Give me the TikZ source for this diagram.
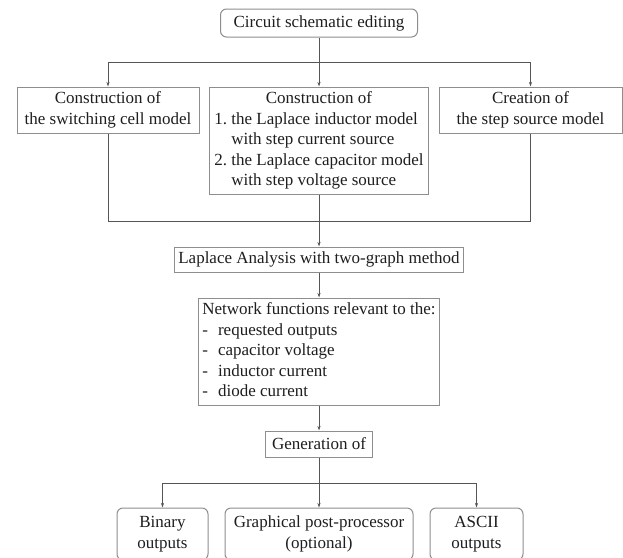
\documentclass[tikz,border=0pt]{standalone}
\usepackage{fontspec}
\setmainfont{Liberation Serif}
\usetikzlibrary{arrows.meta}
\definecolor{boxline}{HTML}{8E8E8E}
\definecolor{wireline}{HTML}{555555}
\definecolor{ink}{HTML}{1E1E1E}
\tikzset{
  box/.style={draw=boxline, line width=1pt, fill=white, inner sep=0pt, text=ink,
              font=\fontsize{17}{20.5}\selectfont, align=center},
  rbox/.style={box, rounded corners=6pt},
  wire/.style={wireline, line width=0.7pt},
  feed/.style={wire, -{Stealth[length=4.5pt, width=3pt]}},
}

\begin{document}
\begin{tikzpicture}[x=1pt, y=-1pt]
  \useasboundingbox[fill=white] (0,0) rectangle (623,557);
  % editing step
  \node[rbox, minimum width=197pt, minimum height=28pt] (edit) at (319,23) {Circuit schematic editing};

  % model construction blocks
  \node[box, minimum width=182pt, minimum height=46pt] (cell) at (108,110) {Construction of\\the switching cell model};
  \node[box, minimum width=219pt, minimum height=107pt] (lmod) at (319,140.5) {%
    \begin{tabular}{@{}l@{\ }l@{}}
      \multicolumn{2}{c}{Construction of}\\
      1. & the Laplace inductor model\\
         & with step current source\\
      2. & the Laplace capacitor model\\
         & with step voltage source
    \end{tabular}};
  \node[box, minimum width=183pt, minimum height=46pt] (src) at (530.5,110) {Creation of\\the step source model};

  \coordinate (fork) at (319,62);
  \coordinate (join) at (319,221);
  \draw[wire] (edit.south) -- (fork);
  \draw[wire] (cell.north |- fork) -- (src.north |- fork);
  \foreach \n in {cell,lmod,src}{\draw[feed] (\n.north |- fork) -- (\n.north);}

  % analysis
  \node[box, minimum width=289pt, minimum height=25pt] (lap) at (319,259.5) {Laplace Analysis with two-graph method};
  \draw[wire] (cell.south) -- (cell.south |- join) -- (src.south |- join) -- (src.south);
  \draw[feed] (lmod.south) -- (lap.north);

  \node[box, minimum width=241pt, minimum height=107pt] (net) at (319,351.5) {%
    \begin{tabular}{@{}l@{\hspace{10pt}}l@{}}
      \multicolumn{2}{@{}l@{}}{Network functions relevant to the:}\\
      - & requested outputs\\
      - & capacitor voltage\\
      - & inductor current\\
      - & diode current
    \end{tabular}};
  \draw[feed] (lap.south) -- (net.north);

  \node[box, minimum width=107pt, minimum height=26pt] (gen) at (319,444) {Generation of};
  \draw[feed] (net.south) -- (gen.north);

  % outputs
  \foreach \n/\x/\w/\lab in {bin/162.5/91/{Binary\\outputs},
                             graph/319/188/{Graphical post-processor\\(optional)},
                             ascii/476.5/93/{ASCII\\outputs}}{
    \node[rbox, minimum width=\w pt, minimum height=52pt] (\n) at (\x,534) {\lab};
  }
  \coordinate (fan) at (319,483);
  \draw[wire] (gen.south) -- (fan);
  \draw[wire] (bin.north |- fan) -- (ascii.north |- fan);
  \foreach \n in {bin,graph,ascii}{\draw[feed] (\n.north |- fan) -- (\n.north);}
\end{tikzpicture}
\end{document}
